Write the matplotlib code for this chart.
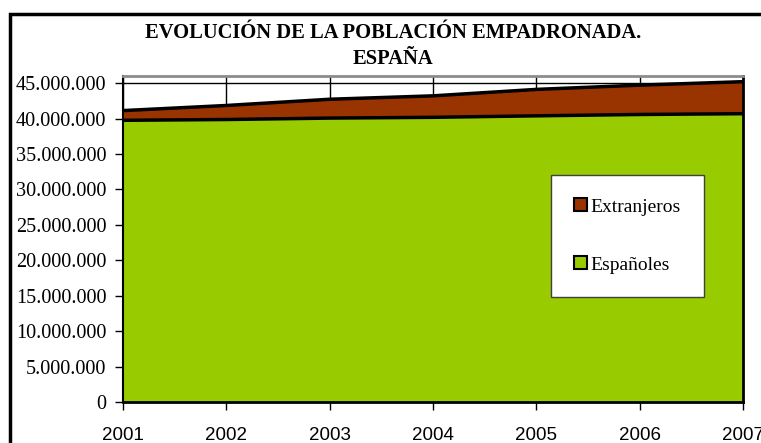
import matplotlib
matplotlib.use("Agg")
import matplotlib.pyplot as plt
from matplotlib.patches import Patch, Rectangle
from matplotlib.ticker import FuncFormatter, MultipleLocator

years = [2001, 2002, 2003, 2004, 2005, 2006, 2007]
espanoles = [39.75e6, 39.86e6, 40.06e6, 40.17e6, 40.38e6, 40.57e6, 40.68e6]
extranjeros = [1.37e6, 1.98e6, 2.66e6, 3.03e6, 3.73e6, 4.14e6, 4.52e6]
title = "EVOLUCIÓN DE LA POBLACIÓN EMPADRONADA.\nESPAÑA"
labels = ["Españoles", "Extranjeros"]
colors = ["#99CC00", "#993300"]

serif = ["Liberation Serif", "DejaVu Serif"]
sans = ["Liberation Sans", "DejaVu Sans"]

fig = plt.figure(figsize=(7.61, 4.43), dpi=100)
fig.patch.set_facecolor("white")

# outer chart frame (cropped at right/bottom)
fig.patches.append(Rectangle((9.5 / 761, -0.1), 1.2, 1 - 14 / 443 + 0.1,
                             transform=fig.transFigure, fill=False,
                             edgecolor="black", linewidth=2.5))

ax = fig.add_axes([123 / 761, 1 - 402 / 443, (743 - 123) / 761, (402 - 76) / 443])
ax.set_xlim(years[0], years[-1])
ax.set_ylim(0, 46.0e6)

total = [a + b for a, b in zip(espanoles, extranjeros)]
ax.stackplot(years, espanoles, extranjeros, colors=colors, zorder=2)
ax.plot(years, espanoles, color="black", linewidth=2.5, zorder=3)
ax.plot(years, total, color="black", linewidth=2.5, zorder=3)

ax.yaxis.set_major_locator(MultipleLocator(5e6))
ax.set_xticks(years)
ax.yaxis.set_major_formatter(FuncFormatter(lambda v, p: f"{int(v):,}".replace(",", ".")))
ax.grid(True, color="black", linewidth=1.0, zorder=1)
ax.set_axisbelow(True)

for lab in ax.get_yticklabels():
    lab.set_fontfamily(serif)
    lab.set_fontsize(14.6)
for lab in ax.get_xticklabels():
    lab.set_fontfamily(sans)
    lab.set_fontsize(13.5)

ax.tick_params(axis="y", direction="out", length=6, width=1, pad=6, colors="black")
ax.tick_params(axis="x", direction="out", length=6, width=1, pad=12, colors="black")

ax.spines["left"].set_linewidth(1.5)
ax.spines["bottom"].set_linewidth(2)
ax.spines["right"].set_linewidth(2)
ax.spines["top"].set_color("#8c8c8c")
ax.spines["top"].set_linewidth(2)

fig.text(393 / 761, 1 - 46 / 443, title, ha="center", va="center",
         fontfamily=serif, fontweight="bold", fontsize=14.8, linespacing=1.35)

handles = [Patch(facecolor=colors[1], edgecolor="black", linewidth=1.5),
           Patch(facecolor=colors[0], edgecolor="black", linewidth=1.5)]
leg = ax.legend(handles, [labels[1], labels[0]], loc="upper left",
                bbox_to_anchor=((551 - 123) / 620, 1 - (175 - 76) / 326),
                prop={"family": serif, "size": 14}, frameon=True, fancybox=False,
                handlelength=0.65, handleheight=0.65, handletextpad=0.2,
                labelspacing=2.1, borderpad=1.2, borderaxespad=0)
leg.get_frame().set_edgecolor("#404040")
leg.get_frame().set_linewidth(1)
leg.get_frame().set_facecolor("white")
leg.get_frame().set_alpha(1)

fig.savefig("out.png", dpi=100)
